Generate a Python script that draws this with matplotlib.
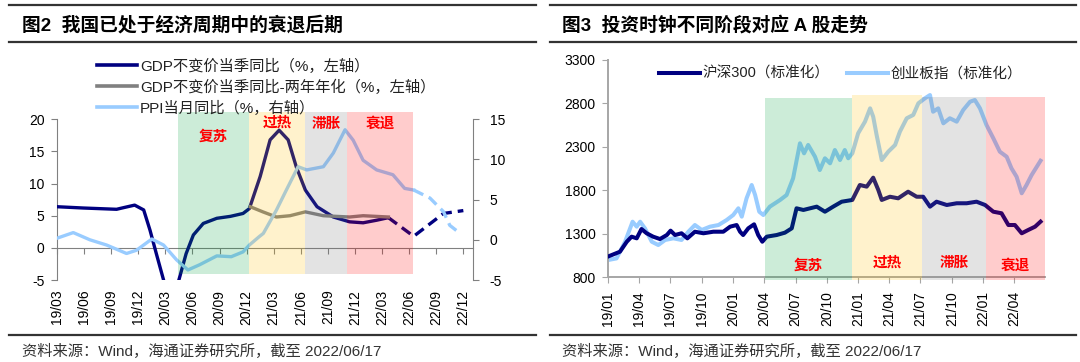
import matplotlib.pyplot as plt
import matplotlib.dates as mdates
from matplotlib.lines import Line2D
import pandas as pd

plt.rcParams['font.family'] = ['Liberation Sans', 'Noto Sans CJK SC']
plt.rcParams['axes.unicode_minus'] = False

# ---------- 图2 data: x = months after 2019/03 ----------
left_ticks = list(range(0, 46, 3))
left_tick_labels = ['19/03', '19/06', '19/09', '19/12', '20/03', '20/06', '20/09', '20/12',
                    '21/03', '21/06', '21/09', '21/12', '22/03', '22/06', '22/09', '22/12']

gdp_x = [0, 2.9, 6.6, 7.2, 8.6, 9.6, 10.3, 11.0, 11.9, 12.65, 13.4, 14.3, 15.1, 16.2, 17.7, 19.2,
         20.6, 21.3, 22.5, 23.6, 24.6, 25.6, 26.5, 27.5, 28.8, 30.6, 32.4, 33.9, 35.4, 36.7]
gdp_y = [6.4, 6.2, 6.0, 6.2, 6.65, 5.9, 2.75, -0.9, -5.5, -6.8, -5.5, -0.9, 2.0, 3.8, 4.6, 4.9,
         5.35, 6.1, 11.1, 16.8, 18.3, 16.8, 12.6, 9.0, 6.4, 4.8, 4.05, 3.9, 4.3, 4.7]
gdp_fc_x = [36.7, 39.5, 42.8, 45.0]
gdp_fc_y = [4.7, 1.8, 5.35, 5.8]

gdp2y_x = [21.4, 22.8, 24.3, 25.8, 27.5, 29.5, 32.4, 33.9, 36.7]
gdp2y_y = [6.4, 5.6, 4.8, 5.0, 5.6, 5.0, 4.8, 5.0, 4.8]

ppi_x = [0, 1.8, 3.65, 5.5, 7.7, 8.8, 10.5, 11.8, 13.25, 14.5, 15.8, 17.7, 19.3, 20.6, 21.3, 22.4,
         22.85, 24.3, 25.4, 26.7, 27.65, 29.5, 30.6, 31.9, 32.8, 33.9, 35.4, 37.2, 38.5, 39.5]
ppi_y = [0.2, 0.9, 0.0, -0.65, -1.7, -1.3, 0.1, -0.65, -2.5, -3.75, -3.1, -2.0, -2.1, -1.5, -0.65, 0.4,
         0.8, 3.7, 6.2, 9.1, 8.7, 9.1, 10.8, 13.7, 12.4, 9.9, 8.7, 8.1, 6.4, 6.2]
ppi_fc_x = [39.5, 41.3, 42.8, 43.5, 44.3]
ppi_fc_y = [6.2, 5.2, 3.5, 1.8, 1.1]

phases = ['复苏', '过热', '滞胀', '衰退']
phase_colors = ['#00A03C', '#FFBE00', '#737373', '#FF0000']
left_phase_start = [13.43, 21.26, 27.46, 32.15]
left_phase_end = [21.26, 27.46, 32.15, 39.46]

# ---------- 图3 data ----------
right_ticks = ['2019-01-01', '2019-04-01', '2019-07-01', '2019-10-01', '2020-01-01', '2020-04-01',
               '2020-07-01', '2020-10-01', '2021-01-01', '2021-04-01', '2021-07-01', '2021-10-01',
               '2022-01-01', '2022-04-01']
right_tick_labels = ['19/01', '19/04', '19/07', '19/10', '20/01', '20/04', '20/07', '20/10',
                     '21/01', '21/04', '21/07', '21/10', '22/01', '22/04']

hs300_dates = ['2019-01-01', '2019-02-04', '2019-02-24', '2019-03-10', '2019-03-25', '2019-04-08',
               '2019-04-23', '2019-05-12', '2019-06-01', '2019-06-21', '2019-07-02', '2019-07-15',
               '2019-08-03', '2019-08-20', '2019-09-11', '2019-10-06', '2019-11-04', '2019-12-03',
               '2019-12-23', '2020-01-11', '2020-01-21', '2020-01-30', '2020-02-14', '2020-03-02',
               '2020-03-14', '2020-03-26', '2020-04-08', '2020-05-07', '2020-05-31', '2020-06-20',
               '2020-07-04', '2020-07-24', '2020-09-01', '2020-09-25', '2020-10-19', '2020-11-13',
               '2020-12-14', '2021-01-05', '2021-01-25', '2021-02-13', '2021-02-28', '2021-03-10',
               '2021-04-03', '2021-04-27', '2021-05-26', '2021-06-20', '2021-07-09', '2021-07-29',
               '2021-08-17', '2021-09-16', '2021-10-15', '2021-11-13', '2021-12-12', '2022-01-06',
               '2022-01-30', '2022-02-23', '2022-03-15', '2022-04-03', '2022-04-23', '2022-05-12',
               '2022-06-01', '2022-06-17']
hs300_vals = [1040, 1094, 1209, 1267, 1248, 1355, 1306, 1267, 1240, 1286, 1336, 1286,
              1306, 1248, 1324, 1306, 1324, 1324, 1382, 1401, 1324, 1286, 1363, 1409,
              1286, 1209, 1267, 1286, 1313, 1363, 1593, 1574, 1612, 1554, 1612, 1669,
              1689, 1861, 1842, 1945, 1803, 1689, 1726, 1708, 1784, 1726, 1726, 1612,
              1669, 1631, 1651, 1651, 1669, 1631, 1554, 1536, 1401, 1401, 1306, 1344,
              1382, 1440]

cyb_dates = ['2019-01-01', '2019-01-25', '2019-02-19', '2019-03-13', '2019-03-25', '2019-04-04',
             '2019-04-18', '2019-05-08', '2019-05-27', '2019-06-16', '2019-07-10', '2019-08-03',
             '2019-08-23', '2019-09-11', '2019-10-01', '2019-10-25', '2019-11-19', '2019-12-13',
             '2020-01-01', '2020-01-16', '2020-01-26', '2020-02-09', '2020-02-24', '2020-03-05',
             '2020-03-17', '2020-03-29', '2020-04-17', '2020-05-17', '2020-06-05', '2020-06-24',
             '2020-07-14', '2020-07-26', '2020-08-07', '2020-08-27', '2020-09-10', '2020-09-25',
             '2020-10-10', '2020-10-24', '2020-11-08', '2020-11-22', '2020-12-02', '2020-12-14',
             '2020-12-31', '2021-01-20', '2021-02-04', '2021-02-13', '2021-02-23', '2021-03-10',
             '2021-03-29', '2021-04-18', '2021-05-02', '2021-05-22', '2021-06-10', '2021-06-25',
             '2021-07-14', '2021-07-29', '2021-08-07', '2021-08-22', '2021-09-06', '2021-09-25',
             '2021-10-15', '2021-11-03', '2021-11-23', '2021-12-07', '2021-12-22', '2022-01-10',
             '2022-01-30', '2022-02-18', '2022-03-10', '2022-03-24', '2022-04-08', '2022-04-23',
             '2022-05-07', '2022-05-22', '2022-06-17']
cyb_vals = [999, 1017, 1209, 1439, 1382, 1439, 1363, 1209, 1171, 1229, 1248, 1229,
            1324, 1401, 1344, 1382, 1401, 1459, 1516, 1593, 1497, 1708, 1861, 1746,
            1554, 1516, 1612, 1689, 1746, 1938, 2340, 2225, 2321, 2186, 2033, 2168,
            2110, 2263, 2148, 2263, 2168, 2225, 2455, 2589, 2742, 2646, 2436, 2148,
            2244, 2321, 2474, 2628, 2666, 2800, 2857, 2895, 2703, 2742, 2570, 2628,
            2589, 2723, 2818, 2838, 2742, 2551, 2398, 2244, 2186, 2053, 1956, 1766,
            1861, 1976, 2140]

right_phase_start = ['2020-04-03', '2020-12-13', '2021-07-05', '2022-01-08']
right_phase_end = ['2020-12-13', '2021-07-05', '2022-01-08', '2022-06-29']
right_phase_top = [2865, 2895, 2875, 2870]

W, H = 1080, 362
fig = plt.figure(figsize=(W / 100, H / 100), dpi=100)


def px(x0, y0, x1, y1):
    return [x0 / W, 1 - y1 / H, (x1 - x0) / W, (y1 - y0) / H]


def hrule(x0, x1, y):
    fig.add_artist(Line2D([x0 / W, x1 / W], [1 - y / H, 1 - y / H], color='#333333', lw=1.6))


navy = '#000080'
light = '#99CCFF'
grey_line = '#808080'
spine_c = '#808080'

# ---------------- 图2 ----------------
hrule(9, 536, 5)
hrule(9, 536, 42)
hrule(9, 536, 334.5)
fig.text(22 / W, 1 - 25 / H, '图2  我国已处于经济周期中的衰退后期', fontsize=13.5,
         fontweight='bold', va='center', ha='left')
fig.text(22 / W, 1 - 351.5 / H, '资料来源：Wind，海通证券研究所，截至 2022/06/17', fontsize=11,
         color='#333333', va='center', ha='left')

ax = fig.add_axes(px(57, 119.3, 473, 280))
ax2 = ax.twinx()
ax.set_xlim(0, 46.07)
ax.set_ylim(-5, 20)
ax2.set_ylim(-5, 15)
ax.set_yticks([-5, 0, 5, 10, 15, 20])
ax2.set_yticks([-5, 0, 5, 10, 15])

ax.plot(gdp_x, gdp_y, color=navy, lw=2.4, solid_capstyle='round', zorder=3)
ax.plot(gdp_fc_x, gdp_fc_y, color=navy, lw=2.4, ls=(0, (3.2, 1.8)), zorder=3)
ax.plot(gdp2y_x, gdp2y_y, color=grey_line, lw=2.4, zorder=4)
ax2.plot(ppi_x, ppi_y, color=light, lw=2.4, zorder=2)
ax2.plot(ppi_fc_x, ppi_fc_y, color=light, lw=2.4, ls=(0, (3.2, 1.8)), zorder=2)

widths = [e - s for s, e in zip(left_phase_start, left_phase_end)]
bars = ax2.bar(left_phase_start, [15.88 + 4.29] * 4, width=widths, bottom=-4.29, align='edge',
               color=phase_colors, alpha=0.2, lw=0, zorder=5)
for b in bars:
    b.set_clip_on(False)
label_y = [12.8, 14.6, 14.5, 14.5]
for s, e, name, yy in zip(left_phase_start, left_phase_end, phases, label_y):
    ax2.text((s + e) / 2, yy, name, color='red', fontsize=10.5, fontweight='bold',
             ha='center', va='center', zorder=6)

for a in (ax, ax2):
    a.spines['top'].set_visible(False)
    a.spines['left'].set_color(spine_c)
    a.spines['right'].set_color(spine_c)
ax.spines['right'].set_visible(False)
ax2.spines['left'].set_visible(False)
ax2.spines['bottom'].set_visible(False)
ax.spines['bottom'].set_position(('data', 0))
ax.spines['bottom'].set_color(spine_c)
ax.set_xticks(left_ticks)
ax.tick_params(axis='x', labelbottom=False, direction='out', length=4, color=spine_c)
ax.tick_params(axis='y', direction='out', length=4, color=spine_c, labelsize=10, pad=5)
ax2.tick_params(axis='y', direction='out', length=4, color=spine_c, labelsize=10, pad=8)
sec = ax.secondary_xaxis('bottom')
sec.set_xticks(left_ticks, left_tick_labels, rotation=90, fontsize=10)
sec.tick_params(length=0, pad=7)
sec.spines['bottom'].set_visible(False)

legend_handles = [Line2D([], [], color=navy, lw=2.6),
                  Line2D([], [], color=grey_line, lw=2.6),
                  Line2D([], [], color=light, lw=2.6)]
fig.legend(legend_handles, ['GDP不变价当季同比（%，左轴）', 'GDP不变价当季同比-两年年化（%，左轴）',
                            'PPI当月同比（%，右轴）'],
           loc='upper left', bbox_to_anchor=(97 / W, 1 - 58.5 / H), frameon=False, fontsize=11,
           handlelength=2.6, handletextpad=0.2, labelspacing=0.38, borderpad=0, borderaxespad=0,
           labelcolor='#222222')

# ---------------- 图3 ----------------
hrule(550, 1076, 5)
hrule(550, 1076, 42)
hrule(550, 1076, 334.5)
fig.text(562 / W, 1 - 25 / H, '图3  投资时钟不同阶段对应 A 股走势', fontsize=13.5,
         fontweight='bold', va='center', ha='left')
fig.text(562 / W, 1 - 351.5 / H, '资料来源：Wind，海通证券研究所，截至 2022/06/17', fontsize=11,
         color='#333333', va='center', ha='left')

bx = fig.add_axes(px(608.3, 59.8, 1045, 277.3))
bx.set_xlim(pd.Timestamp('2019-01-01'), pd.Timestamp('2022-06-30'))
bx.set_ylim(800, 3300)
bx.set_yticks(range(800, 3301, 500))
bx.plot(pd.to_datetime(hs300_dates), hs300_vals, color=navy, lw=2.9, zorder=3, label='沪深300（标准化）')
bx.plot(pd.to_datetime(cyb_dates), cyb_vals, color=light, lw=2.9, zorder=2, label='创业板指（标准化）')

rs = mdates.date2num(pd.to_datetime(right_phase_start))
re_ = mdates.date2num(pd.to_datetime(right_phase_end))
rbars = bx.bar(rs, [t - 770 for t in right_phase_top], width=re_ - rs, bottom=770, align='edge',
               color=phase_colors, alpha=0.2, lw=0, zorder=5)
for b in rbars:
    b.set_clip_on(False)
rlabel_y = [935, 965, 965, 935]
for s, e, name, yy in zip(rs, re_, phases, rlabel_y):
    bx.text((s + e) / 2, yy, name, color='red', fontsize=10.5, fontweight='bold',
            ha='center', va='center', zorder=6)

for side in ('top', 'right'):
    bx.spines[side].set_visible(False)
for side in ('left', 'bottom'):
    bx.spines[side].set_color('#A6A6A6')
    bx.spines[side].set_linewidth(1.4)
bx.set_xticks(pd.to_datetime(right_ticks), right_tick_labels, rotation=90, fontsize=10)
bx.tick_params(axis='x', direction='out', length=4, color='#A6A6A6', pad=6)
bx.tick_params(axis='y', direction='out', length=4, color='#A6A6A6', labelsize=10, pad=5)
bx.legend(loc='upper left', bbox_to_anchor=(659 / W, 1 - 67 / H), bbox_transform=fig.transFigure,
          ncol=2, frameon=False, fontsize=10.5, handlelength=2.8, handletextpad=0.2,
          columnspacing=1.2, borderpad=0, borderaxespad=0, labelcolor='#222222')

fig.savefig('out.png', dpi=100)
